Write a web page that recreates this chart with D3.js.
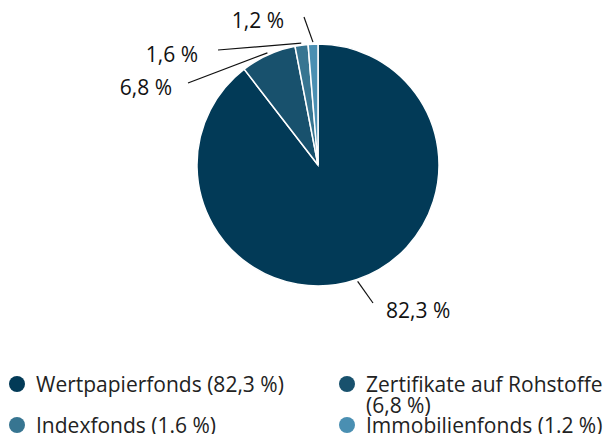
<!DOCTYPE html>
<html>
<head>
<meta charset="utf-8">
<script src="https://cdn.jsdelivr.net/npm/d3@7"></script>
<style>
  body { margin: 0; background: #fff; }
  svg { display: block; font-family: "Open Sans", "Noto Sans", sans-serif; }
</style>
</head>
<body>
<svg id="chart"></svg>
<script>
const categories = ["Wertpapierfonds", "Zertifikate auf Rohstoffe", "Indexfonds", "Immobilienfonds"];
const values = [82.3, 6.8, 1.6, 1.2];
const sliceLabels = ["82,3 %", "6,8 %", "1,6 %", "1,2 %"];
const legendLabels = ["Wertpapierfonds (82,3\u00a0%)", "Zertifikate auf Rohstoffe (6,8\u00a0%)", "Indexfonds (1.6\u00a0%)", "Immobilienfonds (1.2\u00a0%)"];
const colors = ["#023a57", "#18516d", "#377591", "#4a8fb2"];

const width = 615, height = 434;
const cx = 318, cy = 165, radius = 121;

// where each leader line ends, relative to the pie centre, and the text offset from there
const labelEnds = [[55, 138], [-130, -82], [-100, -115], [-14, -148]];
const textOffsets = [[13, 15], [-16, 12], [-20, 12], [-20, 11]];

const svg = d3.select("#chart")
    .attr("width", width)
    .attr("height", height)
    .attr("viewBox", [0, 0, width, height]);

const pie = d3.pie().sort(null).value(d => d);
const arcs = pie(values);
const arc = d3.arc().innerRadius(0).outerRadius(radius);

const g = svg.append("g").attr("transform", `translate(${cx},${cy})`);

g.selectAll("path.slice")
    .data(arcs)
    .join("path")
    .attr("class", "slice")
    .attr("d", arc)
    .attr("fill", (d, i) => colors[i])
    .attr("stroke", "#fff")
    .attr("stroke-width", 1.5);

// leader lines
g.selectAll("line.leader")
    .data(arcs)
    .join("line")
    .attr("class", "leader")
    .attr("x1", d => Math.sin((d.startAngle + d.endAngle) / 2) * (radius + 2))
    .attr("y1", d => -Math.cos((d.startAngle + d.endAngle) / 2) * (radius + 2))
    .attr("x2", (d, i) => labelEnds[i][0])
    .attr("y2", (d, i) => labelEnds[i][1])
    .attr("stroke", "#111")
    .attr("stroke-width", 1.2);

g.selectAll("text.pct")
    .data(arcs)
    .join("text")
    .attr("class", "pct")
    .attr("x", (d, i) => labelEnds[i][0] + textOffsets[i][0])
    .attr("y", (d, i) => labelEnds[i][1] + textOffsets[i][1])
    .attr("text-anchor", (d, i) => labelEnds[i][0] > 0 ? "start" : "end")
    .attr("font-size", 21)
    .attr("fill", "#111")
    .text((d, i) => sliceLabels[i]);

// legend
const legend = svg.append("g");
const colX = [17, 347];
const rowY = [384, 425];

const items = legend.selectAll("g.item")
    .data(legendLabels)
    .join("g")
    .attr("class", "item")
    .attr("transform", (d, i) => `translate(${colX[i % 2]},${rowY[Math.floor(i / 2)]})`);

items.append("circle")
    .attr("r", 8)
    .attr("fill", (d, i) => colors[i]);

items.append("text")
    .attr("x", 19)
    .attr("y", 7.5)
    .attr("font-size", 21)
    .attr("fill", "#222")
    .each(function (d) {
        const t = d3.select(this);
        const maxW = 250;
        const words = d.split(" ");
        let line = [];
        let tspan = t.append("tspan").attr("x", 19);
        for (const w of words) {
            line.push(w);
            tspan.text(line.join(" "));
            if (tspan.node().getComputedTextLength() > maxW && line.length > 1) {
                line.pop();
                tspan.text(line.join(" "));
                line = [w];
                tspan = t.append("tspan").attr("x", 19).attr("dy", 21).text(w);
            }
        }
    });
</script>
</body>
</html>
